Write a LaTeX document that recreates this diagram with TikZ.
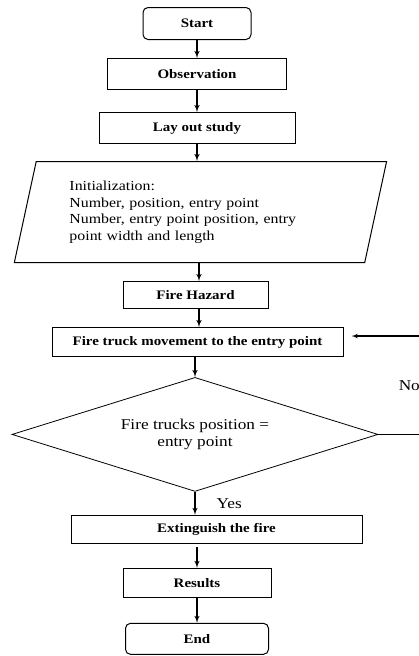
\documentclass[tikz,border=0pt]{standalone}
\usepackage{fontspec}
\setmainfont[FakeStretch=1.15]{Liberation Serif}
\usepackage{tikz}
\usetikzlibrary{shapes,arrows}
\usetikzlibrary{positioning}
\begin{document}
\begin{tikzpicture}[node distance=18pt,auto,>=latex', line width=1.4pt,
  box/.style={draw,line width=1pt,inner sep=2pt,font=\fontsize{13}{15}\selectfont\bfseries},
  term/.style={box,rounded corners=5pt},
  io/.style={draw,line width=1pt,trapezium,trapezium left angle=75,trapezium right angle=105,trapezium stretches=true,inner sep=2pt,align=left,font=\fontsize{13.8}{16.5}\selectfont},
  test/.style={draw,line width=0.8pt,diamond,aspect=3.18,inner sep=1pt,align=center,font=\fontsize{15}{17.3}\selectfont},
  lbl/.style={font=\fontsize{15}{17}\selectfont,inner sep=1pt}]
\path[use as bounding box] (0,0) rectangle (419pt,-656pt);
\path node[term,minimum width=108pt,minimum height=32pt] (start) at (197pt,-23.5pt) {Start};
\path node[box,minimum width=179pt,minimum height=31pt,below=18pt of start] (obs) {Observation};
\path[->] (start.south) edge (start.south |- obs.north);
\path node[box,minimum width=196pt,minimum height=31pt,below=22pt of obs] (lay) {Lay out study};
\path[->] (obs.south) edge (obs.south |- lay.north);
\path node[io,text width=262pt,minimum width=373pt,minimum height=101pt,below=17pt of lay,xshift=3.5pt] (init)
  {Initialization:\\Number, position, entry point\\Number, entry point position, entry\\point width and length};
\path[->] (lay.south) edge (lay.south |- init.north);
\path node[box,minimum width=145pt,minimum height=27pt,below=18pt of init,xshift=-5pt] (haz) {Fire Hazard};
\path[->] ([xshift=-1.5pt]init.south) edge ([xshift=-1.5pt]init.south |- haz.north);
\path node[box,minimum width=291pt,minimum height=29pt,below=18pt of haz,xshift=2pt] (move) {Fire truck movement to the entry point};
\path[->] ([xshift=-1.5pt]haz.south -| init.south) edge ([xshift=-1.5pt]init.south |- move.north);
\path node[test,minimum width=366pt,minimum height=114pt,below=20pt of move,xshift=-2.5pt] (check) {Fire trucks position =\\entry point};
\path[->] (move.south -| check.north) edge (check.north);
\path node[box,minimum width=291pt,minimum height=28pt,below=23pt of check,xshift=21.5pt] (ext) {Extinguish the fire};
\path[->] (check.south) edge node[lbl,right=20pt] {Yes} (check.south |- ext.north);
\path node[box,minimum width=148pt,minimum height=29pt,below=24pt of ext,xshift=-19.5pt] (res) {Results};
\path[->] ([yshift=-3pt]ext.south -| res.north) edge (res.north);
\path node[term,minimum width=143pt,minimum height=31pt,below=25pt of res] (stop) {End};
\path[->] (res.south) edge (stop.north);
% loop back when the trucks are not yet at the entry point
\coordinate (back) at ([xshift=43pt]check.east);
\path[draw,line width=0.5pt] (check.east) -- (back);
\path[->,draw,line width=1.1pt,shorten >=8pt] (back) |- node[lbl,left,pos=0.25] {No} ([yshift=6pt]move.east);
\end{tikzpicture}
\end{document}
